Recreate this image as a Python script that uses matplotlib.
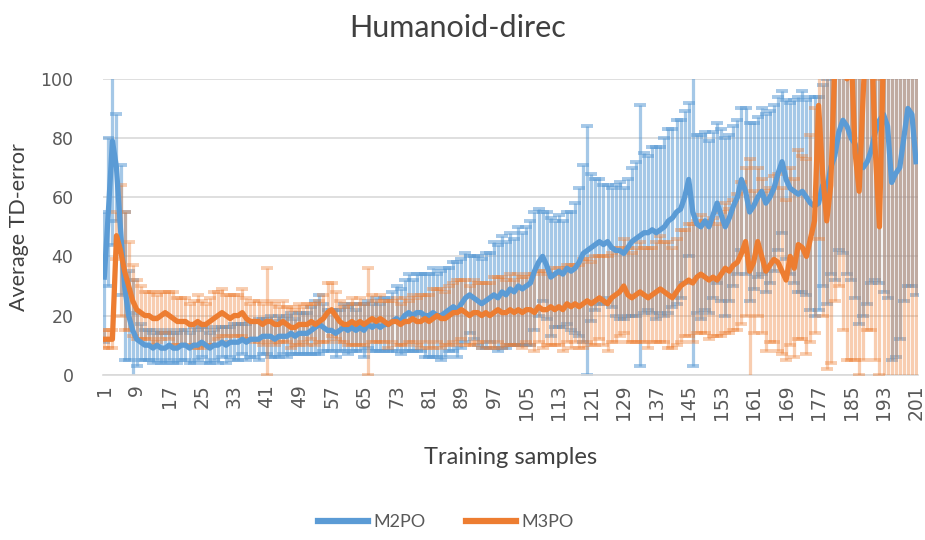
import numpy as np
import matplotlib
matplotlib.use("Agg")
import matplotlib.pyplot as plt

# training sample index 1..201
samples = list(range(1, 202))
tick_labels = [str(s) for s in range(1, 202, 8)]

m2po_mean = [
    33, 55, 79, 70, 49, 30, 20, 15, 12, 11,
    10, 10, 9, 10, 9, 9, 10, 9, 9, 10,
    10, 9, 10, 10, 11, 10, 9, 10, 10, 11,
    10, 11, 11, 11, 12, 11, 12, 12, 12, 13,
    13, 13, 12, 13, 13, 13, 14, 13, 14, 14,
    14, 15, 16, 17, 16, 15, 15, 14, 15, 16,
    15, 16, 15, 16, 15, 17, 16, 17, 16, 17,
    17, 18, 19, 18, 20, 21, 20, 21, 21, 20,
    20, 21, 20, 20, 21, 22, 23, 22, 24, 26,
    27, 26, 25, 24, 25, 26, 27, 26, 28, 27,
    29, 28, 30, 29, 30, 31, 35, 38, 40, 37,
    33, 34, 35, 34, 36, 35, 36, 38, 41, 42,
    43, 44, 45, 44, 45, 43, 42, 42, 41, 43,
    45, 46, 47, 48, 48, 49, 48, 49, 50, 52,
    53, 55, 56, 60, 66, 55, 51, 50, 52, 50,
    54, 58, 54, 50, 53, 57, 60, 66, 62, 55,
    57, 60, 62, 58, 60, 63, 68, 72, 66, 63,
    62, 61, 62, 60, 58, 57, 58, 64, 62, 70,
    74, 82, 86, 84, 80, 78, 72, 70, 72, 76,
    82, 86, 88, 84, 65, 68, 70, 80, 90, 88, 72,
]
m2po_err = [
    22, 25, 35, 18, 22, 25, 15, 17, 9, 6,
    5, 5, 5, 5, 5, 5, 5, 5, 5, 5,
    5, 5, 6, 5, 5, 6, 5, 5, 6, 5,
    6, 5, 6, 6, 5, 6, 6, 6, 7, 6,
    6, 7, 6, 7, 6, 7, 7, 6, 7, 7,
    7, 8, 9, 10, 8, 7, 7, 8, 7, 8,
    8, 8, 7, 8, 9, 8, 8, 9, 8, 9,
    9, 10, 11, 11, 12, 13, 12, 13, 13, 14,
    14, 15, 14, 15, 15, 14, 15, 16, 15, 15,
    13, 14, 15, 15, 16, 15, 18, 18, 19, 18,
    19, 18, 20, 19, 20, 21, 20, 18, 15, 18,
    20, 18, 19, 18, 19, 20, 22, 25, 30, 42,
    25, 22, 21, 20, 19, 20, 22, 23, 22, 23,
    25, 26, 44, 27, 26, 28, 29, 28, 30, 31,
    30, 31, 30, 29, 26, 52, 30, 31, 30, 29,
    28, 27, 29, 30, 28, 27, 26, 24, 28, 30,
    28, 27, 28, 30, 29, 28, 26, 24, 27, 29,
    31, 33, 34, 33, 36, 37, 36, 34, 38, 36,
    42, 40, 45, 50, 48, 52, 55, 50, 48, 45,
    50, 55, 60, 58, 60, 62, 58, 55, 60, 58, 45,
]
m3po_mean = [
    12, 12, 12, 47, 42, 35, 30, 25, 22, 21,
    20, 20, 19, 19, 20, 21, 20, 19, 18, 18,
    18, 17, 17, 18, 17, 17, 18, 19, 20, 21,
    20, 19, 20, 20, 21, 19, 18, 18, 18, 17,
    18, 18, 17, 17, 18, 17, 16, 16, 17, 17,
    17, 18, 17, 18, 19, 21, 22, 20, 18, 17,
    17, 18, 17, 18, 17, 18, 19, 18, 19, 18,
    17, 18, 18, 17, 18, 18, 19, 18, 18, 19,
    18, 19, 20, 19, 19, 20, 21, 21, 22, 21,
    20, 21, 21, 20, 21, 20, 21, 22, 21, 21,
    22, 21, 22, 21, 22, 22, 21, 23, 22, 22,
    23, 22, 23, 22, 24, 23, 24, 23, 24, 25,
    24, 25, 26, 25, 24, 26, 27, 28, 30, 27,
    26, 27, 28, 27, 26, 27, 28, 29, 28, 27,
    26, 28, 30, 31, 32, 31, 33, 34, 33, 32,
    33, 32, 34, 36, 35, 37, 38, 41, 45, 35,
    38, 45, 40, 35, 37, 39, 38, 35, 32, 40,
    36, 44, 43, 40, 46, 52, 91, 68, 52, 64,
    105, 120, 115, 100, 110, 75, 62, 95, 125, 115,
    75, 50, 110, 130, 140, 135, 130, 128, 125, 130, 128,
]
m3po_err = [
    3, 3, 3, 8, 22, 20, 15, 12, 10, 9,
    8, 8, 9, 8, 8, 7, 8, 9, 8, 8,
    8, 7, 8, 9, 8, 7, 8, 9, 8, 8,
    7, 8, 7, 7, 8, 7, 6, 7, 7, 7,
    18, 7, 7, 6, 7, 6, 7, 6, 7, 6,
    7, 6, 7, 7, 8, 10, 9, 8, 7, 6,
    7, 8, 7, 8, 7, 18, 8, 7, 8, 7,
    8, 7, 8, 7, 8, 7, 8, 8, 9, 8,
    9, 10, 9, 10, 9, 10, 10, 11, 10, 11,
    10, 11, 10, 11, 10, 11, 12, 11, 12, 11,
    12, 11, 12, 12, 11, 12, 13, 12, 13, 12,
    13, 12, 13, 14, 13, 14, 13, 14, 15, 14,
    14, 15, 14, 15, 16, 15, 16, 15, 16, 16,
    15, 16, 17, 16, 17, 16, 17, 18, 17, 18,
    17, 18, 19, 18, 19, 20, 19, 20, 19, 20,
    20, 19, 21, 22, 21, 22, 23, 24, 25, 38,
    24, 25, 26, 27, 26, 28, 30, 28, 27, 30,
    30, 32, 31, 33, 35, 38, 45, 48, 50, 60,
    80, 90, 100, 95, 105, 70, 62, 90, 110, 100,
    70, 50, 120, 135, 145, 140, 135, 130, 128, 133, 130,
]

blue = "#5B9BD5"
orange = "#ED7D31"
grey = "#595959"

fig = plt.figure(figsize=(9.25, 5.4), dpi=100)
ax = fig.add_axes([0.111, 0.306, 0.881, 0.548])

# error bars first, then both lines on top
ax.errorbar(samples, m2po_mean, yerr=m2po_err, fmt="none", ecolor=blue,
            elinewidth=2.3, capsize=4.5, capthick=2.8, alpha=0.55, zorder=2)
ax.errorbar(samples, m3po_mean, yerr=m3po_err, fmt="none", ecolor=orange,
            elinewidth=2.3, capsize=4.5, capthick=2.8, alpha=0.38, zorder=3)
ax.plot(samples, m2po_mean, color=blue, lw=3.8, zorder=4,
        solid_joinstyle="round", label="M2PO")
ax.plot(samples, m3po_mean, color=orange, lw=3.8, zorder=5,
        solid_joinstyle="round", label="M3PO")

ax.set_xlim(0.6, 201.4)
ax.set_ylim(0, 100)
ax.set_yticks(range(0, 101, 20))
ax.set_xticks(range(1, 202, 8))
ax.set_xticklabels(tick_labels, rotation=90, fontsize=13.5, color=grey)
ax.tick_params(axis="y", labelsize=12.5, labelcolor=grey, length=0, pad=21)
ax.tick_params(axis="x", length=0, pad=7)
ax.grid(axis="y", color="#D9D9D9", lw=1.2, zorder=0)
for s in ["top", "right", "left"]:
    ax.spines[s].set_visible(False)
ax.spines["bottom"].set_color("#D9D9D9")
ax.spines["bottom"].set_linewidth(1.2)

fig.text(0.495, 0.948, "Humanoid-direc", ha="center", va="center",
         fontsize=22, color="#404040", family="Lato")
ax.set_xlabel("Training samples", fontsize=17, color="#404040", family="Lato", labelpad=19)
ax.set_ylabel("Average TD-error", fontsize=15.5, color="#404040", family="Lato", labelpad=8)

leg = fig.legend(loc="lower center", bbox_to_anchor=(0.482, -0.012), ncol=2, frameon=False,
                 handlelength=2.8, columnspacing=2.2, handletextpad=0.3,
                 prop={"family": "Lato", "size": 13})
for t in leg.get_texts():
    t.set_color(grey)
for h in leg.get_lines():
    h.set_linewidth(4.5)

fig.savefig("out.png", dpi=100)
